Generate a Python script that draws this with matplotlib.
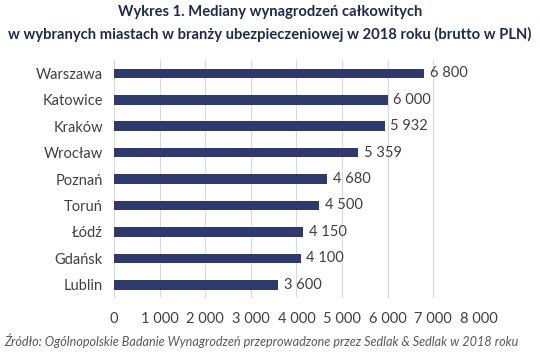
import matplotlib.pyplot as plt
import numpy as np

plt.rcParams['font.family'] = ['Lato', 'DejaVu Sans']

# dane
miasta = ['Warszawa', 'Katowice', 'Kraków', 'Wrocław', 'Poznań', 'Toruń', 'Łódź', 'Gdańsk', 'Lublin']
mediany = [6800, 6000, 5932, 5359, 4680, 4500, 4150, 4100, 3600]
ticks_x = [0, 1000, 2000, 3000, 4000, 5000, 6000, 7000, 8000]


def fmt(v):
    return '{:,}'.format(v).replace(',', ' ')


fig = plt.figure(figsize=(5.4, 3.56), dpi=100)
ax = fig.add_axes([0.211, 0.163, 0.676, 0.668])

y = np.arange(len(miasta))
ax.barh(y, mediany, height=0.36, color='#2E3A6E', zorder=3)
for yi, v in zip(y, mediany):
    ax.text(v + 120, yi, fmt(v), va='center', ha='left', fontsize=10.5, color='#404040')

ax.set_yticks(y)
ax.set_yticklabels(miasta, fontsize=10.5, color='#404040')
ax.set_ylim(len(miasta) - 0.5, -0.5)
ax.set_xlim(0, 8000)
ax.set_xticks(ticks_x)
ax.set_xticklabels([fmt(t) for t in ticks_x], fontsize=10.5, color='#404040')
ax.tick_params(length=0, pad=10)
ax.tick_params(axis='y', pad=8)
ax.grid(axis='x', color='#D9D9D9', linewidth=0.8, zorder=0)
for s in ax.spines.values():
    s.set_visible(False)

fig.text(0.5, 0.965, 'Wykres 1. Mediany wynagrodzeń całkowitych', ha='center', va='center',
         fontsize=10.6, fontweight='bold', color='#1F2A4D')
fig.text(0.5, 0.903, 'w wybranych miastach w branży ubezpieczeniowej w 2018 roku (brutto w PLN)',
         ha='center', va='center', fontsize=10.6, fontweight='bold', color='#1F2A4D')
fig.text(0.008, 0.042, 'Źródło: Ogólnopolskie Badanie Wynagrodzeń przeprowadzone przez Sedlak & Sedlak w 2018 roku',
         ha='left', va='center', fontsize=9.1, style='italic', color='#595959')

plt.savefig('out.png', dpi=100)
